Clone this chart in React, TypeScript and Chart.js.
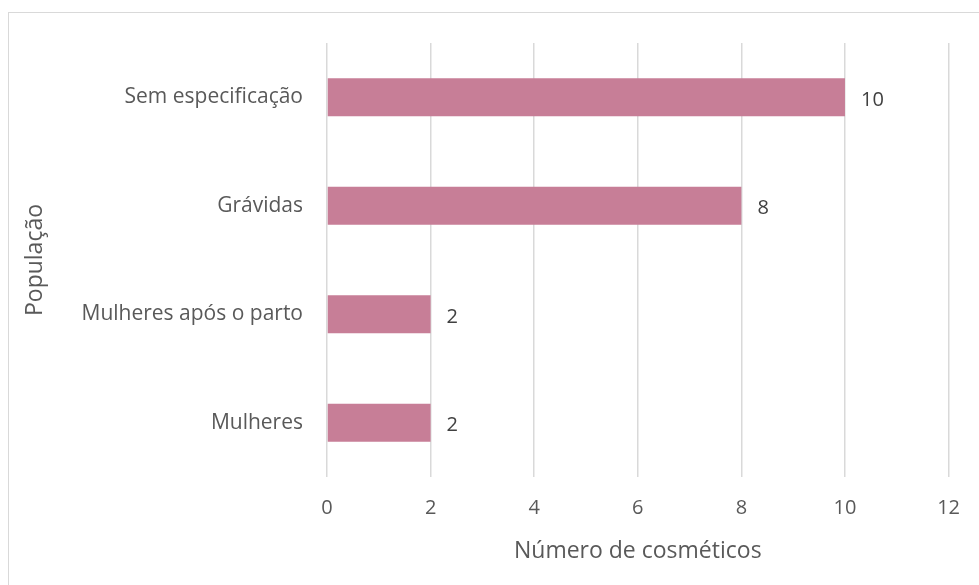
import React, { useEffect, useRef } from "react";
import { Chart, registerables } from "chart.js";

Chart.register(...registerables);

const categories = ["Sem especificação", "Grávidas", "Mulheres após o parto", "Mulheres"];
const values = [10, 8, 2, 2];
const xTicks = [0, 2, 4, 6, 8, 10, 12];
const xTitle = "Número de cosméticos";
const yTitle = "População";

const FONT = "'Open Sans', sans-serif";
const TEXT = "#595959";

const labelPlugin = {
  id: "barLabels",
  afterDatasetsDraw(chart: any) {
    const ctx = chart.ctx;
    const meta = chart.getDatasetMeta(0);
    ctx.save();
    ctx.font = `20px ${FONT}`;
    ctx.fillStyle = "#404040";
    ctx.textAlign = "left";
    ctx.textBaseline = "middle";
    meta.data.forEach((el: any, i: number) => {
      ctx.fillText(String(values[i]), el.x + 16, el.y + 3);
    });
    ctx.restore();
  },
};

export default function App() {
  const ref = useRef<HTMLCanvasElement>(null);
  useEffect(() => {
    const chart = new Chart(ref.current!, {
      type: "bar",
      data: {
        labels: categories,
        datasets: [
          {
            data: values,
            backgroundColor: "#C77E97",
            categoryPercentage: 1,
            barPercentage: 0.35,
          },
        ],
      },
      options: {
        indexAxis: "y",
        animation: false,
        responsive: false,
        maintainAspectRatio: false,
        layout: { padding: { left: 22, top: 43, right: 29, bottom: 8 } },
        plugins: { legend: { display: false }, tooltip: { enabled: false } },
        scales: {
          x: {
            min: 0,
            max: 12,
            afterBuildTicks: (s: any) => {
              s.ticks = xTicks.map((v) => ({ value: v }));
            },
            grid: { color: "#D9D9D9", lineWidth: 1.5, drawTicks: false },
            border: { display: false },
            ticks: { color: TEXT, font: { family: FONT, size: 20 }, padding: 19 },
            title: {
              display: true,
              text: xTitle,
              color: TEXT,
              font: { family: FONT, size: 23 },
              padding: { top: 10, bottom: 12 },
            },
            afterFit: (s: any) => {
              s.height = 585 - 477 - 8;
            },
          },
          y: {
            grid: { display: false, drawTicks: false },
            border: { display: false },
            ticks: { color: TEXT, font: { family: FONT, size: 21 }, padding: 24 },
            title: {
              display: true,
              text: yTitle,
              color: TEXT,
              font: { family: FONT, size: 23 },
              padding: { top: 0, bottom: 0 },
            },
            afterFit: (s: any) => {
              s.width = 327 - 22;
            },
          },
        },
      },
      plugins: [labelPlugin],
    });
    return () => chart.destroy();
  }, []);
  return (
    <div style={{ position: "fixed", left: 0, top: 0, width: 979, height: 585, background: "#fff" }}>
      <div
        style={{
          position: "absolute",
          left: 8,
          top: 12,
          width: 979,
          height: 585,
          border: "1.5px solid #D9D9D9",
          boxSizing: "border-box",
        }}
      />
      <canvas ref={ref} width={979} height={585} style={{ position: "absolute", left: 0, top: 0 }} />
    </div>
  );
}
